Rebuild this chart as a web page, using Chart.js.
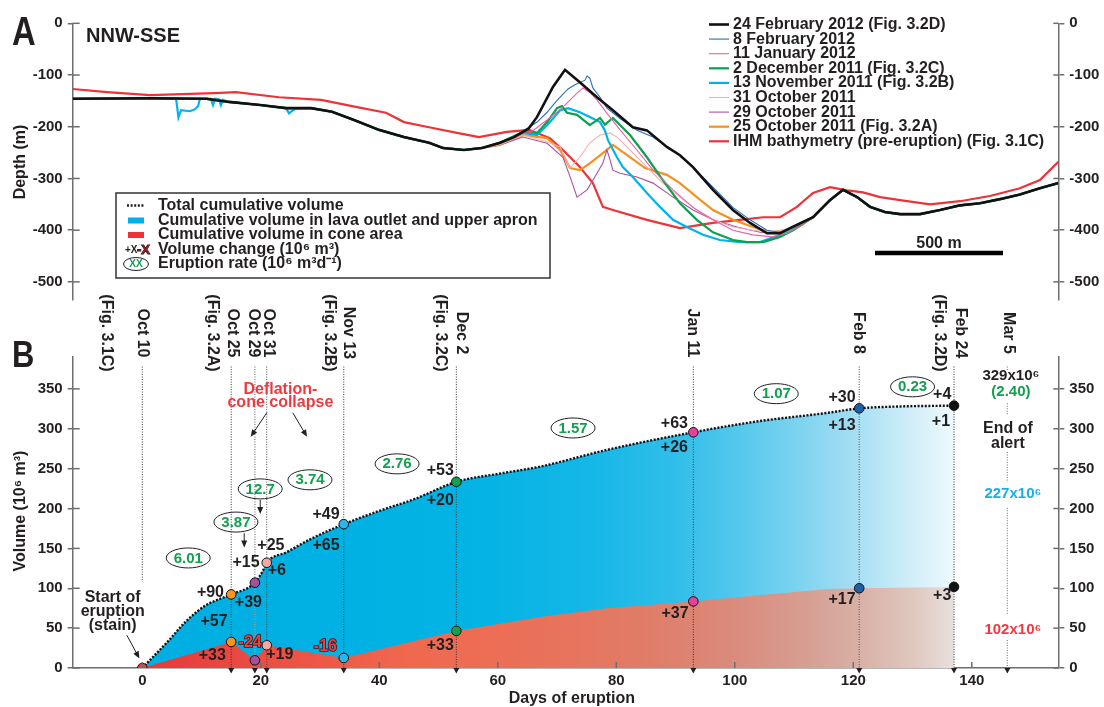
<!DOCTYPE html>
<html>
<head>
<meta charset="utf-8">
<script src="https://cdn.jsdelivr.net/npm/chart.js@4.4.1/dist/chart.umd.min.js"></script>
<style>
  html, body { margin: 0; padding: 0; background: #fff; }
  #wrap { position: relative; width: 1104px; height: 707px; }
  canvas { position: absolute; left: 0; top: 0; }
</style>
</head>
<body>
<div id="wrap">
  <canvas id="profiles" width="1104" height="707"></canvas>
  <canvas id="volumes" width="1104" height="707"></canvas>
</div>
<script>
const FONT = "'Liberation Sans', Arial, sans-serif";
const INK = '#231f20';
const AXIS_GREY = '#6d6e71';
const GREEN = '#10a04e';

// ---------- Panel A : NNW-SSE profiles, [distance (m), depth (m)] ----------
const commonLeft = [[0,-146],[302,-145],[523,-146],[610,-152],[732,-158],[833,-164],[931,-164],[1013,-171],[1099,-187],[1196,-206],[1294,-220],[1392,-231],[1446,-241],[1528,-245],[1599,-241]];
const commonRight = [[2892,-375],[2958,-342],[3009,-322],[3064,-336],[3115,-355],[3173,-365],[3232,-369],[3310,-369],[3388,-361],[3466,-352],[3544,-348],[3622,-340],[3700,-331],[3778,-319],[3850,-309]];

const feb24Mid = [[1669,-231],[1724,-220],[1782,-203],[1814,-181],[1876,-123],[1923,-90],[1981,-114],[2048,-143],[2110,-168],[2188,-201],[2243,-207],[2321,-239],[2372,-255],[2423,-278],[2501,-322],[2579,-361],[2646,-386],[2712,-406],[2763,-406],[2802,-396]];
const feb8Mid = [[1669,-231],[1724,-220],[1814,-191],[1853,-172],[1892,-149],[1935,-127],[1962,-119],[2001,-110],[2009,-102],[2020,-106],[2032,-125],[2060,-143],[2087,-164],[2138,-184],[2204,-207],[2267,-220],[2321,-239],[2372,-255],[2423,-278],[2501,-317],[2579,-356],[2646,-380],[2712,-400],[2763,-404],[2802,-396]];
const jan11Mid = [[1669,-231],[1759,-212],[1786,-212],[1853,-187],[1915,-162],[1970,-135],[1993,-125],[2020,-134],[2048,-148],[2087,-174],[2138,-206],[2204,-245],[2267,-284],[2345,-322],[2423,-356],[2501,-380],[2579,-400],[2657,-409],[2735,-413],[2790,-406],[2841,-392]];
const dec2Mid = [[1669,-231],[1759,-210],[1814,-212],[1853,-191],[1892,-164],[1911,-160],[1931,-173],[1970,-177],[2020,-197],[2060,-183],[2079,-196],[2110,-183],[2177,-216],[2243,-259],[2305,-303],[2372,-348],[2438,-380],[2501,-404],[2579,-419],[2634,-423],[2697,-423],[2763,-413],[2814,-400]];
const nov13Mid = [[1669,-231],[1759,-212],[1814,-216],[1853,-197],[1904,-168],[1935,-164],[1981,-172],[2020,-181],[2060,-191],[2079,-207],[2091,-226],[2126,-259],[2149,-278],[2188,-297],[2243,-328],[2294,-355],[2345,-380],[2399,-394],[2462,-409],[2528,-419],[2607,-423],[2685,-423],[2763,-409],[2829,-390]];
const nov13Dips = [[404,-146],[413,-182],[423,-168],[458,-170],[478,-166],[490,-160],[497,-146],[540,-146],[548,-158],[556,-146],[571,-147],[579,-158],[587,-148],[845,-174],[861,-168],[872,-165]];
const oct31Mid = [[1669,-235],[1759,-216],[1853,-229],[1904,-239],[1943,-280],[1981,-259],[2020,-231],[2060,-216],[2099,-212],[2126,-220],[2177,-245],[2243,-278],[2305,-309],[2372,-336],[2438,-361],[2501,-380],[2579,-394],[2657,-400],[2735,-404],[2802,-396]];
const oct29Mid = [[1669,-235],[1759,-220],[1853,-232],[1915,-259],[1943,-297],[1970,-336],[2009,-322],[2048,-290],[2071,-270],[2087,-245],[2099,-264],[2110,-284],[2138,-290],[2204,-297],[2267,-309],[2345,-336],[2423,-361],[2501,-380],[2595,-394],[2685,-404],[2763,-406],[2829,-390]];
const oct25Mid = [[1669,-235],[1759,-216],[1853,-222],[1904,-245],[1943,-280],[1981,-284],[2020,-271],[2071,-251],[2110,-235],[2236,-280],[2321,-293],[2372,-309],[2438,-336],[2501,-361],[2579,-380],[2657,-394],[2724,-404],[2790,-400],[2841,-392]];
const ihmProfile = [[0,-127],[134,-133],[302,-139],[552,-135],[638,-133],[806,-143],[970,-148],[1111,-162],[1224,-173],[1294,-191],[1392,-201],[1501,-212],[1587,-220],[1696,-210],[1782,-206],[1864,-222],[1915,-245],[1981,-278],[2032,-309],[2071,-355],[2110,-361],[2243,-380],[2372,-396],[2501,-386],[2607,-380],[2697,-375],[2763,-375],[2829,-355],[2892,-328],[2958,-317],[3025,-323],[3087,-327],[3154,-336],[3232,-342],[3349,-350],[3466,-344],[3583,-334],[3700,-319],[3778,-303],[3850,-268]];
const scaleBar = [[3134,-444],[3634,-444]];

// ---------- Panel B : cumulative volumes (days, 10^6 m3) ----------
const xTicksB = [0, 20, 40, 60, 80, 100, 120, 140];
const eventDays = [0, 15, 19, 21, 34, 53, 93, 121, 137];
const totalAtEvent = [0, 92.3, 107, 132, 180.4, 233.5, 295.6, 325.6, 329];
const coneAtEvent = [0, 32.7, 9.7, 28.5, 12.6, 46.5, 83.5, 100, 101.7];
const markerColors = ['#e8423c', '#f7941d', '#a3519e', '#f5a7a5', '#29b6e8', '#13a14f', '#e6409b', '#1d5fa8', '#111111'];
const totalDays = [0, 4.4, 7.4, 11, 12.2, 15, 19, 20.5, 21, 24.3, 28.5, 34, 40, 46, 53, 60.5, 67.2, 78.4, 93, 103.6, 115.7, 121, 128, 137];
const totalVolume = [0, 34, 58.7, 80, 84, 92.3, 107, 124, 132, 145, 162, 180.4, 197, 212, 233.5, 244, 252.6, 273.5, 295.6, 309, 320, 325.6, 328, 329];
const coneDays = [0, 15, 19, 21, 34, 53, 67.2, 78.4, 93, 103.6, 115.7, 121, 137];
const coneVolume = [0, 32.7, 9.7, 28.5, 12.6, 46.5, 64, 75, 83.5, 91, 99, 100, 101.7];
const endAlertDay = 146;

const dateLabels = [['(Fig. 3.1C)', -6], ['Oct 10', 0], ['(Fig. 3.2A)', 11.8], ['Oct 25', 15.2], ['Oct 29', 18.7], ['Oct 31', 21.2],
  ['(Fig. 3.2B)', 31.5], ['Nov 13', 34.7], ['(Fig. 3.2C)', 50.3], ['Dec 2', 53.8], ['Jan 11', 92.8], ['Feb 8', 120.8],
  ['(Fig. 3.2D)', 134.5], ['Feb 24', 138], ['Mar 5', 146.1]];
const rateLabels = [['6.01', 7.75, 138], ['3.87', 15.8, 183], ['12.7', 19.9, 224.6], ['3.74', 28.3, 236], ['2.76', 43, 256],
  ['1.57', 72.7, 301], ['1.07', 107, 344], ['0.23', 130, 352.6]];
const changeLabels = [['+90', 11.5, 94], ['+57', 12.1, 57.7], ['+33', 11.8, 15], ['+39', 17.9, 81.6], ['+15', 17.5, 131.7],
  ['+25', 21.7, 154], ['+6', 22.7, 121.7], ['-24', 18.2, 31.4], ['+19', 23.2, 16.3], ['+49', 31, 193], ['+65', 31, 154],
  ['-16', 30.9, 26.3], ['+53', 50.3, 247], ['+20', 50.3, 209.5], ['+33', 50.3, 27.6], ['+63', 89.8, 306], ['+26', 89.8, 277],
  ['+37', 89.9, 67.8], ['+30', 118.1, 338.8], ['+13', 118.1, 303.6], ['+17', 118.1, 85.3], ['+4', 135, 342.5],
  ['+1', 134.8, 308.7], ['+3', 135, 90.3]];

Chart.defaults.font.family = FONT;
Chart.defaults.font.weight = 'bold';
Chart.defaults.font.size = 15;
Chart.defaults.color = INK;

const toPts = arr => arr.map(([x, y]) => ({x, y}));
const withEnds = (mid, left = commonLeft) => toPts([...left, ...mid, ...commonRight]);
const zip = (xs, ys) => xs.map((x, i) => ({x, y: ys[i]}));

const profiles = [
  {label: '24 February 2012 (Fig. 3.2D)', color: '#111111', width: 2.6, pts: withEnds(feb24Mid)},
  {label: '8 February 2012', color: '#2e6db4', width: 1.1, pts: withEnds(feb8Mid)},
  {label: '11 January 2012', color: '#ec5fa5', width: 1.1, pts: withEnds(jan11Mid)},
  {label: '2 December 2011 (Fig. 3.2C)', color: '#0aa14f', width: 2.2, pts: withEnds(dec2Mid)},
  {label: '13 November 2011 (Fig. 3.2B)', color: '#00b3ec', width: 2.2,
    pts: withEnds(nov13Mid, [...commonLeft, ...nov13Dips].sort((a, b) => a[0] - b[0]))},
  {label: '31 October 2011', color: '#f5b0b0', width: 1.1, pts: withEnds(oct31Mid)},
  {label: '29 October 2011', color: '#b04fa0', width: 1.1, pts: withEnds(oct29Mid)},
  {label: '25 October 2011 (Fig. 3.2A)', color: '#f7901e', width: 2.2, pts: withEnds(oct25Mid)},
  {label: 'IHM bathymetry (pre-eruption) (Fig. 3.1C)', color: '#ee3338', width: 2.2, pts: toPts(ihmProfile)}
];

function yAxis(position, min, max, step, lo, hi, width, outer) {
  return {
    type: 'linear', position, min, max,
    ticks: {stepSize: step, autoSkip: false, padding: 5, color: INK, font: {size: 15, weight: 'bold'}, callback: v => String(v)},
    afterBuildTicks: ax => { ax.ticks = ax.ticks.filter(t => t.value >= lo && t.value <= hi && t.value % step === 0); },
    afterFit: ax => { ax.width = width; },
    grid: {drawOnChartArea: false, drawTicks: true, tickLength: outer, color: AXIS_GREY, lineWidth: 1.5},
    border: {display: true, color: AXIS_GREY, width: 1.5}
  };
}

function innerTicks(ctx, scale, len) {
  const ax = scale.position === 'left' ? scale.right : scale.position === 'right' ? scale.left : scale.top;
  ctx.save();
  ctx.strokeStyle = AXIS_GREY;
  ctx.lineWidth = 1.5;
  scale.ticks.forEach(t => {
    const p = scale.getPixelForValue(t.value);
    ctx.beginPath();
    if (scale.isHorizontal()) { ctx.moveTo(p, ax); ctx.lineTo(p, ax - len); }
    else { ctx.moveTo(ax, p); ctx.lineTo(ax + len, p); }
    ctx.stroke();
  });
  ctx.restore();
}

function text(ctx, str, x, y, font, color, align = 'center', base = 'middle') {
  ctx.font = font;
  ctx.fillStyle = color;
  ctx.textAlign = align;
  ctx.textBaseline = base;
  ctx.fillText(str, x, y);
}

function arrow(ctx, x1, y1, x2, y2) {
  const a = Math.atan2(y2 - y1, x2 - x1);
  ctx.save();
  ctx.strokeStyle = INK; ctx.fillStyle = INK; ctx.lineWidth = 1;
  ctx.beginPath(); ctx.moveTo(x1, y1); ctx.lineTo(x2 - 5 * Math.cos(a), y2 - 5 * Math.sin(a)); ctx.stroke();
  ctx.beginPath();
  ctx.moveTo(x2, y2);
  ctx.lineTo(x2 - 7 * Math.cos(a) + 3 * Math.sin(a), y2 - 7 * Math.sin(a) - 3 * Math.cos(a));
  ctx.lineTo(x2 - 7 * Math.cos(a) - 3 * Math.sin(a), y2 - 7 * Math.sin(a) + 3 * Math.cos(a));
  ctx.closePath(); ctx.fill();
  ctx.restore();
}

const panelA = {
  id: 'panelA',
  afterDraw(chart) {
    const {ctx, scales} = chart;
    const x = scales.x, y = scales.y;
    innerTicks(ctx, scales.y, 7);
    innerTicks(ctx, scales.yRight, -5);
    ctx.save();
    // panel letter and section name
    ctx.save(); ctx.translate(12, 45); ctx.scale(0.82, 1);
    text(ctx, 'A', 0, 0, `bold 40px ${FONT}`, INK, 'left', 'alphabetic');
    ctx.restore();
    text(ctx, 'NNW-SSE', 86, 42, `bold 20px ${FONT}`, INK, 'left', 'alphabetic');
    ctx.save(); ctx.translate(21, 162); ctx.rotate(-Math.PI / 2);
    text(ctx, 'Depth (m)', 0, 0, `bold 16px ${FONT}`, INK);
    ctx.restore();
    // scale bar label
    text(ctx, '500 m', x.getPixelForValue(3384), y.getPixelForValue(-425), `bold 16px ${FONT}`, INK);

    // date legend (top right)
    profiles.forEach((p, i) => {
      const ly = 24.5 + i * 14.6;
      ctx.strokeStyle = p.color; ctx.lineWidth = p.width;
      ctx.beginPath(); ctx.moveTo(709, ly); ctx.lineTo(729, ly); ctx.stroke();
      text(ctx, p.label, 733, ly, `bold 16px ${FONT}`, INK, 'left');
    });

    // symbol legend box
    ctx.fillStyle = '#fff'; ctx.fillRect(116, 193, 434, 85);
    ctx.strokeStyle = '#333'; ctx.lineWidth = 1.5; ctx.strokeRect(116, 193, 434, 85);
    const rows = [205.5, 220.5, 235, 249.5, 264];
    ctx.save(); ctx.strokeStyle = INK; ctx.lineWidth = 2.4; ctx.setLineDash([2, 1.6]);
    ctx.beginPath(); ctx.moveTo(127, rows[0]); ctx.lineTo(145, rows[0]); ctx.stroke(); ctx.restore();
    ctx.fillStyle = '#00b0e8'; ctx.fillRect(128, rows[1] - 3, 16, 6);
    ctx.fillStyle = '#ee3338'; ctx.fillRect(128, rows[2] - 3, 16, 6);
    text(ctx, '+X', 125, rows[3] + 1, `bold 10px ${FONT}`, INK, 'left');
    ctx.font = `bold 13px ${FONT}`; ctx.lineWidth = 1; ctx.strokeStyle = INK; ctx.strokeText('-X', 137, rows[3] + 1);
    text(ctx, '-X', 137, rows[3] + 1, `bold 13px ${FONT}`, '#8b1a1a', 'left');
    ctx.beginPath(); ctx.ellipse(136, rows[4], 12.5, 6.5, 0, 0, Math.PI * 2);
    ctx.strokeStyle = INK; ctx.lineWidth = 1; ctx.stroke();
    text(ctx, 'XX', 136, rows[4] + 0.5, `bold 10px ${FONT}`, GREEN);
    const legendText = ['Total cumulative volume', 'Cumulative volume in lava outlet and upper apron',
      'Cumulative volume in cone area', 'Volume change (10\u2076 m\u00b3)', 'Eruption rate (10\u2076 m\u00b3d\u207b\u00b9)'];
    legendText.forEach((t, i) => text(ctx, t, 158, rows[i], `bold 16px ${FONT}`, INK, 'left'));
    ctx.restore();
  }
};

new Chart(document.getElementById('profiles'), {
  type: 'line',
  data: {
    datasets: [
      ...profiles.map(p => ({label: p.label, data: p.pts, borderColor: p.color, borderWidth: p.width,
        pointRadius: 0, fill: false, tension: 0})),
      {label: 'scale', data: toPts(scaleBar), borderColor: '#000', borderWidth: 4.5, pointRadius: 0, borderCapStyle: 'butt'}
    ]
  },
  options: {
    responsive: false, animation: false, events: [],
    layout: {padding: {top: 23.3, bottom: 407, left: 0, right: 0}},
    plugins: {legend: {display: false}, tooltip: {enabled: false}},
    scales: {
      x: {type: 'linear', min: 0, max: 3850, display: false},
      y: yAxis('left', -535, 0, 100, -500, 0, 72.7, 5),
      yRight: yAxis('right', -535, 0, 100, -500, 0, 1104 - 1058.3, 6)
    }
  },
  plugins: [panelA]
});

// ---------- Panel B ----------
const blueStops = [[0, '#00aee2'], [55, '#02b3e4'], [75, '#14b7e6'], [90, '#30bee9'], [100, '#52c7ec'], [110, '#7ad2ef'],
  [118, '#9bdbf2'], [125, '#bbe6f6'], [131, '#d6f0f9'], [137, '#eef9fd']];
const redStops = [[0, '#e6393c'], [25, '#ec5244'], [45, '#f0684e'], [65, '#ea7058'], [85, '#e07c68'], [100, '#da8b7c'],
  [112, '#d69e92'], [122, '#d9b2a8'], [130, '#dfc7be'], [137, '#e8e0dc']];

function gradient(stops) {
  return ctx => {
    const chart = ctx.chart;
    if (!chart.chartArea) return stops[0][1];
    const xs = chart.scales.x;
    const x0 = xs.getPixelForValue(0), x1 = xs.getPixelForValue(137);
    const g = chart.ctx.createLinearGradient(x0, 0, x1, 0);
    stops.forEach(([d, c]) => g.addColorStop(d / 137, c));
    return g;
  };
}

const lineStyle = {0: ['#333', 1], 15: ['#333', 1], 19: ['#9a9a9a', 1.6], 21: ['#444', 1], 34: ['#333', 1], 53: ['#333', 1],
  93: ['#333', 1], 121: ['#666', 1.2], 137: ['#888', 1.8]};
const alertSegments = [[378, 373], [332, 317], [271, 233], [201, 67], [35, 0]];

function drawEventLines(chart) {
  const {ctx, scales: {x, y}} = chart;
  ctx.save();
  ctx.setLineDash([1, 1.5]);
  eventDays.forEach(d => {
    const [c, w] = lineStyle[d];
    const px = x.getPixelForValue(d);
    ctx.strokeStyle = c; ctx.lineWidth = w;
    ctx.beginPath();
    ctx.moveTo(px, y.getPixelForValue(378));
    ctx.lineTo(px, y.getPixelForValue(d === 0 ? 108 : 0));
    ctx.stroke();
  });
  const ax = x.getPixelForValue(endAlertDay);
  ctx.strokeStyle = '#8a8a8a'; ctx.lineWidth = 1.3;
  alertSegments.forEach(([a, b]) => {
    ctx.beginPath(); ctx.moveTo(ax, y.getPixelForValue(a)); ctx.lineTo(ax, y.getPixelForValue(b)); ctx.stroke();
  });
  ctx.restore();
}

const panelB = {
  id: 'panelB',
  afterDatasetDraw(chart, args) {
    if (args.index === 2) drawEventLines(chart);
  },
  afterDraw(chart) {
    const {ctx, chartArea, scales: {x, y}} = chart;
    innerTicks(ctx, chart.scales.y, 7);
    innerTicks(ctx, chart.scales.yRight, -5);
    innerTicks(ctx, x, 6);
    ctx.save();
    // arrow heads under the event lines
    ctx.fillStyle = INK;
    [...eventDays.slice(1), endAlertDay].forEach(d => {
      const px = x.getPixelForValue(d), py = chartArea.bottom;
      ctx.beginPath(); ctx.moveTo(px - 3, py); ctx.lineTo(px + 3, py); ctx.lineTo(px, py + 5.5); ctx.closePath(); ctx.fill();
    });
    // letter and titles
    ctx.save(); ctx.translate(12, 367); ctx.scale(0.86, 1);
    text(ctx, 'B', 0, 0, `bold 36px ${FONT}`, INK, 'left', 'alphabetic');
    ctx.restore();
    ctx.save(); ctx.translate(21, 511); ctx.rotate(-Math.PI / 2);
    text(ctx, 'Volume (10\u2076 m\u00b3)', 0, 0, `bold 16px ${FONT}`, INK);
    ctx.restore();
    text(ctx, 'Days of eruption', x.getPixelForValue(72.5), 699, `bold 16px ${FONT}`, INK);
    // rotated date labels above the plot
    dateLabels.forEach(([t, d]) => {
      ctx.save(); ctx.translate(x.getPixelForValue(d), chartArea.top - 24); ctx.rotate(Math.PI / 2);
      text(ctx, t, 0, 0, `bold 16px ${FONT}`, INK);
      ctx.restore();
    });
    // eruption rates in ellipses
    rateLabels.forEach(([t, d, v]) => {
      const px = x.getPixelForValue(d), py = y.getPixelForValue(v);
      ctx.beginPath(); ctx.ellipse(px, py, 22, 10, 0, 0, Math.PI * 2);
      ctx.strokeStyle = INK; ctx.lineWidth = 1; ctx.stroke();
      text(ctx, t, px, py + 0.5, `bold 15px ${FONT}`, GREEN);
    });
    arrow(ctx, x.getPixelForValue(17.2), y.getPixelForValue(169), x.getPixelForValue(17.2), y.getPixelForValue(151));
    arrow(ctx, x.getPixelForValue(19.9), y.getPixelForValue(211), x.getPixelForValue(19.9), y.getPixelForValue(193));
    // volume changes
    changeLabels.forEach(([t, d, v]) => {
      const px = x.getPixelForValue(d), py = y.getPixelForValue(v);
      if (t[0] === '-') {
        ctx.font = `bold 16px ${FONT}`; ctx.textAlign = 'center'; ctx.textBaseline = 'middle';
        ctx.lineWidth = 1.6; ctx.strokeStyle = '#3b1414'; ctx.strokeText(t, px, py);
        text(ctx, t, px, py, `bold 16px ${FONT}`, '#ec3d3d');
      } else {
        text(ctx, t, px, py, `bold 16px ${FONT}`, INK);
      }
    });
    // deflation note
    text(ctx, 'Deflation-', x.getPixelForValue(23.3), y.getPixelForValue(349), `bold 16px ${FONT}`, '#ee3a3f');
    text(ctx, 'cone collapse', x.getPixelForValue(23.3), y.getPixelForValue(332.5), `bold 16px ${FONT}`, '#ee3a3f');
    arrow(ctx, x.getPixelForValue(21), y.getPixelForValue(320), x.getPixelForValue(18.3), y.getPixelForValue(290));
    arrow(ctx, x.getPixelForValue(25.4), y.getPixelForValue(320), x.getPixelForValue(27.8), y.getPixelForValue(290));
    // start of eruption
    ['Start of', 'eruption', '(stain)'].forEach((t, i) =>
      text(ctx, t, x.getPixelForValue(-5), y.getPixelForValue(88 - i * 17.5), `bold 16px ${FONT}`, INK));
    arrow(ctx, x.getPixelForValue(-2.6), y.getPixelForValue(41), x.getPixelForValue(-0.5), y.getPixelForValue(12));
    // end of alert totals
    const ex = x.getPixelForValue(146.6);
    text(ctx, '329x10\u2076', ex, y.getPixelForValue(366), `bold 15px ${FONT}`, INK);
    text(ctx, '(2.40)', ex, y.getPixelForValue(346), `bold 15px ${FONT}`, GREEN);
    text(ctx, 'End of', ex - 3, y.getPixelForValue(300), `bold 16px ${FONT}`, INK);
    text(ctx, 'alert', ex - 3, y.getPixelForValue(282), `bold 16px ${FONT}`, INK);
    text(ctx, '227x10\u2076', ex + 2, y.getPixelForValue(218), `bold 15px ${FONT}`, '#1aaee6');
    text(ctx, '102x10\u2076', ex + 2, y.getPixelForValue(47.7), `bold 15px ${FONT}`, '#ee3a3f');
    ctx.restore();
  }
};

new Chart(document.getElementById('volumes'), {
  type: 'line',
  data: {
    datasets: [
      {label: 'total markers', data: zip(eventDays, totalAtEvent), showLine: false, pointRadius: 4.8,
        pointBackgroundColor: markerColors, pointBorderColor: '#111', pointBorderWidth: 1},
      {label: 'cone markers', data: zip(eventDays.slice(1), coneAtEvent.slice(1)), showLine: false, pointRadius: 4.8,
        pointBackgroundColor: markerColors.slice(1), pointBorderColor: '#111', pointBorderWidth: 1},
      {label: 'Cumulative volume in cone area', data: zip(coneDays, coneVolume), fill: 'origin',
        backgroundColor: gradient(redStops), borderWidth: 0, pointRadius: 0, tension: 0},
      {label: 'Total cumulative volume', data: zip(totalDays, totalVolume), fill: 'origin',
        backgroundColor: gradient(blueStops), borderColor: '#111', borderWidth: 2.4, borderDash: [2, 1.6],
        pointRadius: 0, cubicInterpolationMode: 'monotone'}
    ]
  },
  options: {
    responsive: false, animation: false, events: [],
    layout: {padding: {top: 357, bottom: 0, left: 0, right: 0}},
    plugins: {legend: {display: false}, tooltip: {enabled: false}},
    scales: {
      x: {
        type: 'linear', min: -11.75, max: 154.6,
        ticks: {stepSize: 20, autoSkip: false, padding: 4, maxRotation: 0, color: INK, font: {size: 15, weight: 'bold'}},
        afterBuildTicks: ax => { ax.ticks = xTicksB.map(v => ({value: v})); },
        afterFit: ax => { ax.height = 39; },
        grid: {drawOnChartArea: false, drawTicks: false, color: AXIS_GREY},
        border: {display: true, color: AXIS_GREY, width: 1.5}
      },
      y: yAxis('left', 0, 390, 50, 0, 350, 72.7, 5),
      yRight: yAxis('right', 0, 390, 50, 0, 350, 1104 - 1058.3, 6)
    }
  },
  plugins: [panelB]
});
</script>
</body>
</html>
